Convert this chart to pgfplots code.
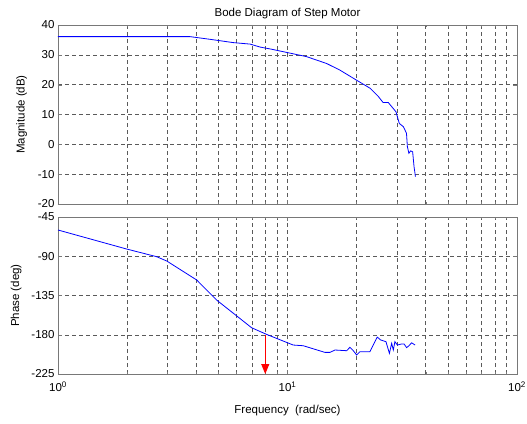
\documentclass[border=0pt]{standalone}
\usepackage{fontspec}
\setmainfont{Liberation Sans}
\usepackage{pgfplots}
\pgfplotsset{compat=1.18}
\usetikzlibrary{arrows.meta}
\definecolor{gridc}{RGB}{90,90,90}
\definecolor{framec}{RGB}{120,120,120}
\begin{document}
\begin{tikzpicture}
\useasboundingbox (0,0) rectangle (527pt,423pt);
\begin{axis}[xmode=log, xmin=1, xmax=100, width=459pt, scale only axis, anchor=south west,
  axis line style={framec, line width=0.8pt},
  grid=both,
  major grid style={gridc, line width=0.5pt, dash pattern=on 4pt off 3pt},
  minor grid style={gridc, line width=0.5pt, dash pattern=on 4pt off 3pt},
  tick style={framec}, tick align=inside,
  major tick length=4pt, minor tick length=2pt,
  font=\fontsize{11.5}{13}\selectfont,
  xtick={1,10,100},
  at={(58pt,219pt)}, height=179pt,
  ymin=-20, ymax=40, ytick={-20,-10,...,40},
  xticklabels={},
  ylabel={Magnitude (dB)},
  ylabel shift=4pt,
  title={Bode Diagram of Step Motor},
  title style={at={(0.5,1)}, anchor=south, yshift=-3pt},
  /pgf/number format/assume math mode=true,
]
\addplot[blue, line width=0.8pt] coordinates {
(1,36.1) (3.76,36.1) (4.6,35.2) (5.8,34.1) (6.87,33.6) (7.6,32.6) (8.5,31.9)
(10.07,30.7) (12.1,29.4) (14.8,27.1) (16.9,24.9) (20,21.5) (22.9,18.8)
(24.9,16) (26.1,14) (27.5,14) (29.7,10.9) (30.7,7) (32,5.9) (33,3.7)
(33.3,-0.8) (33.8,-3) (34.4,-2.2) (35.1,-2.5) (35.6,-7.5) (36.1,-10.8)
};
\end{axis}
\begin{axis}[xmode=log, xmin=1, xmax=100, width=459pt, scale only axis, anchor=south west,
  axis line style={framec, line width=0.8pt},
  grid=both,
  major grid style={gridc, line width=0.5pt, dash pattern=on 4pt off 3pt},
  minor grid style={gridc, line width=0.5pt, dash pattern=on 4pt off 3pt},
  tick style={framec}, tick align=inside,
  major tick length=4pt, minor tick length=2pt,
  font=\fontsize{11.5}{13}\selectfont,
  xtick={1,10,100},
  at={(58pt,49pt)}, height=157pt,
  ymin=-225, ymax=-45, ytick={-225,-180,-135,-90,-45},
  xticklabels={10\textsuperscript{0},10\textsuperscript{1},10\textsuperscript{2}},
  xticklabel shift=4pt,
  ylabel={Phase (deg)},
  ylabel shift=3pt,
  xlabel={Frequency\ \ (rad/sec)},
  xlabel shift=7pt,
  clip=false,
  /pgf/number format/assume math mode=true,
]
\addplot[blue, line width=0.8pt] coordinates {
(1,-59.9) (1.99,-81.7) (2.69,-90.5) (2.98,-95.5) (4.02,-117.2) (4.91,-140.2)
(5.81,-155.4) (6.98,-172) (8.11,-179.6) (10.59,-191.8) (11.72,-192.6)
(14.55,-200.2) (15.31,-200.2) (16.11,-197.5) (18.11,-198.3) (18.71,-194.4)
(19.36,-198.3) (20.0,-203.2) (20.70,-199.4) (22.86,-199.4) (24.60,-182.7)
(25.47,-186) (26.85,-187.9) (27.80,-201.3) (28.44,-189.8) (28.91,-197.5)
(29.38,-187.9) (30.13,-191.8) (31.41,-190.6) (32.21,-190.6) (33.04,-194.8)
(33.81,-192.6) (34.75,-189.2) (35.97,-191.8)
};
\addplot[red, line width=0.9pt, -{Triangle[length=10pt,width=8pt]}] coordinates {(8,-180) (8,-225)};
\end{axis}
\end{tikzpicture}
\end{document}
